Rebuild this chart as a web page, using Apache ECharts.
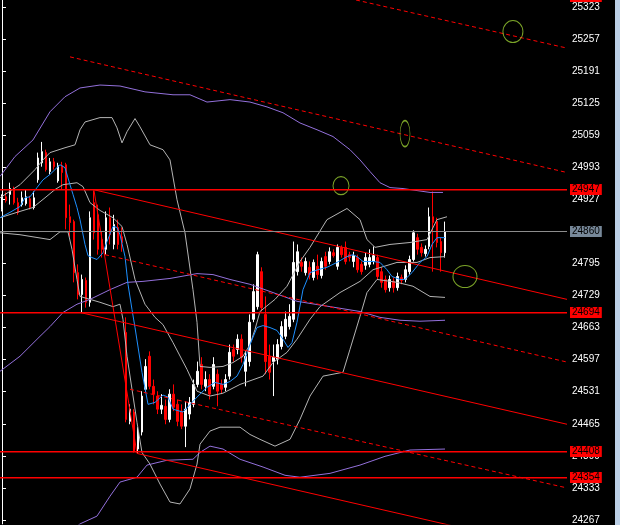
<!DOCTYPE html>
<html><head><meta charset="utf-8">
<script src="https://cdn.jsdelivr.net/npm/echarts@6/dist/echarts.min.js"></script>
<style>html,body{margin:0;padding:0;background:#000;}#c{width:620px;height:525px;}</style>
</head><body><div id="c"></div>
<script>
// ---------------- DATA ----------------
const slotCount = 142;               // bar slots across the plot
const opens  = [24906,24932,24937,24949,24920,24916,24918,24928,24910,24967,
  25002,25023,24984,25004,24965,24996,24998,24891,24881,24776,
  24731,24760,24715,24920,24895,24844,24824,24889,24834,24869,
  24850,24653,24470,24489,24413,24448,24536,24604,24542,24522,
  24495,24501,24474,24526,24505,24491,24460,24485,24505,24546,
  24587,24542,24556,24542,24567,24546,24540,24563,24618,24618,
  24639,24573,24593,24680,24706,24778,24690,24604,24593,24598,
  24624,24645,24665,24680,24778,24797,24776,24787,24766,24789,
  24770,24809,24799,24817,24789,24828,24828,24813,24799,24807,
  24793,24791,24793,24799,24807,24778,24762,24745,24758,24745,
  24766,24762,24778,24803,24848,24828,24815,24830,24891,24881,
  24840,24817];
const closes = [24932,24924,24949,24920,24900,24930,24932,24910,24930,25012,
  25025,24988,25004,24994,24996,24982,24889,24879,24776,24731,
  24762,24715,24889,24858,24824,24824,24889,24854,24875,24834,
  24838,24474,24495,24409,24450,24522,24583,24542,24526,24495,
  24503,24474,24526,24499,24470,24460,24495,24509,24546,24573,
  24546,24556,24526,24587,24532,24536,24556,24612,24604,24639,
  24602,24604,24674,24737,24813,24704,24593,24571,24602,24628,
  24665,24680,24686,24797,24819,24789,24799,24772,24797,24772,
  24799,24789,24819,24811,24828,24813,24799,24807,24811,24782,
  24778,24807,24807,24811,24768,24756,24741,24762,24745,24768,
  24760,24782,24803,24858,24824,24817,24824,24891,24879,24838,
  24817,24860];
const lows   = [24902,24920,24916,24916,24895,24912,24914,24906,24906,24961,
  24994,24984,24978,24988,24961,24947,24865,24850,24756,24721,
  24694,24704,24706,24844,24813,24807,24813,24834,24824,24824,
  24819,24468,24464,24406,24404,24441,24530,24536,24505,24485,
  24485,24464,24468,24491,24460,24454,24417,24474,24499,24540,
  24536,24532,24515,24536,24501,24526,24532,24556,24593,24608,
  24591,24542,24583,24674,24700,24696,24567,24556,24522,24587,
  24618,24639,24659,24674,24770,24778,24770,24762,24760,24762,
  24764,24782,24793,24807,24782,24807,24793,24799,24787,24776,
  24772,24782,24787,24793,24762,24745,24735,24737,24735,24739,
  24752,24756,24772,24799,24813,24809,24809,24824,24778,24828,
  24778,24807];
const highs  = [24937,24941,24961,24953,24930,24943,24947,24934,24943,25023,
  25045,25029,25012,25012,25002,25004,25002,24916,24885,24793,
  24772,24766,24902,24945,24916,24860,24902,24910,24895,24885,
  24869,24684,24505,24495,24458,24532,24598,24614,24556,24532,
  24526,24515,24536,24546,24515,24505,24511,24520,24556,24593,
  24602,24573,24567,24602,24577,24556,24567,24628,24628,24649,
  24649,24614,24690,24752,24819,24787,24727,24628,24628,24639,
  24676,24696,24711,24840,24834,24807,24807,24799,24803,24813,
  24807,24819,24828,24824,24834,24832,24840,24819,24819,24813,
  24799,24817,24824,24830,24813,24787,24770,24770,24766,24776,
  24772,24791,24811,24863,24856,24836,24832,24910,24943,24889,
  24848,24881];

// overlay lines: [bar position, price]
const maFast = [[-0.5,24889],[2,24900],[4.51,24912],[5.76,24930],[7.01,24932],[8.77,24951],[10.27,24967],[12.02,24978],[13.27,24988],[14.53,24998],[15.78,24992],[17.03,24957],[17.78,24937],[18.78,24910],[19.54,24885],[20.79,24834],[21.54,24811],[22.54,24807],[23.79,24803],[25.3,24817],[26.3,24840],[27.8,24871],[28.8,24869],[29.55,24854],[30.81,24809],[31.56,24752],[32.56,24700],[33.31,24663],[35.06,24571],[36.57,24505],[38.32,24509],[40.32,24524],[41.57,24520],[42.83,24495],[45.33,24489],[47.58,24509],[49.09,24522],[51.34,24540],[53.34,24550],[55.35,24546],[57.1,24552],[58.85,24563],[60.36,24587],[62.11,24628],[63.86,24663],[65.37,24667],[67.12,24663],[68.87,24657],[70.37,24639],[71.63,24622],[72.63,24632],[73.88,24674],[75.38,24741],[77.14,24776],[79.14,24782],[81.39,24787],[83.9,24797],[86.4,24809],[87.9,24813],[88.91,24809],[90.41,24799],[92.91,24799],[94.67,24797],[96.42,24782],[97.67,24768],[99.68,24762],[100.93,24762],[102.68,24776],[104.68,24797],[106.44,24809],[107.69,24834],[108.94,24848],[110.95,24848]];
const bandUpper = [[-0.5,24930],[4.51,24957],[8.27,24988],[10.27,25008],[12.02,25023],[15.78,25033],[18.28,25039],[19.54,25070],[20.79,25086],[24.54,25095],[27.55,25095],[28.8,25074],[30.05,25043],[31.31,25066],[33.31,25093],[34.56,25076],[37.07,25039],[40.32,25029],[42.07,25008],[43.83,24926],[45.83,24858],[47.83,24741],[48.84,24674],[49.59,24583],[52.09,24581],[55.35,24583],[57.85,24591],[60.36,24604],[62.11,24628],[63.36,24659],[64.61,24696],[68.37,24721],[71.38,24748],[74.63,24799],[77.14,24828],[81.39,24885],[86.4,24908],[89.66,24885],[91.41,24844],[93.42,24828],[97.17,24834],[102.18,24838],[106.44,24844],[108.94,24885],[111.45,24891]];
const bandMiddle = [[-0.5,24889],[4.51,24902],[7.76,24910],[10.77,24930],[13.27,24947],[15.28,24957],[18.78,24961],[20.29,24953],[22.04,24920],[24.54,24904],[27.8,24889],[30.05,24871],[31.31,24834],[33.31,24762],[35.81,24711],[38.32,24684],[40.32,24669],[42.83,24632],[46.33,24577],[48.84,24532],[52.09,24522],[55.35,24528],[59.61,24546],[65.37,24563],[67.87,24591],[71.38,24612],[73.88,24639],[77.14,24680],[79.64,24706],[84.65,24735],[89.66,24758],[92.91,24782],[98.92,24797],[103.93,24797],[107.19,24807],[110.95,24809]];
const bandLower = [[-0.5,24858],[4.51,24854],[9.02,24848],[12.02,24844],[14.53,24860],[16.53,24860],[17.53,24824],[18.78,24762],[19.54,24727],[22.04,24721],[24.54,24715],[27.8,24706],[29.55,24711],[30.3,24680],[31.31,24604],[32.56,24536],[33.81,24468],[35.06,24406],[37.07,24382],[39.57,24341],[42.07,24304],[44.58,24300],[47.08,24331],[48.84,24382],[49.59,24423],[52.09,24450],[54.6,24458],[59.61,24458],[62.11,24443],[64.61,24433],[68.37,24419],[72.13,24433],[74.63,24474],[77.14,24522],[80.39,24563],[85.4,24571],[87.15,24618],[89.66,24686],[91.41,24735],[93.92,24762],[98.92,24756],[102.93,24748],[107.19,24727],[110.95,24725]];
const slowUpper = [[-0.5,24974],[3.26,25015],[7.76,25049],[12.02,25107],[15.78,25138],[19.54,25156],[24.54,25162],[29.55,25160],[35.81,25148],[42.83,25142],[47.08,25142],[51.34,25127],[57.1,25132],[62.11,25127],[66.37,25117],[70.37,25105],[74.63,25084],[78.89,25070],[82.9,25056],[87.15,25029],[89.66,25008],[92.16,24984],[94.67,24961],[97.17,24951],[100.43,24949],[107.19,24941],[110.44,24941]];
const slowMiddle = [[-0.5,24573],[4.51,24604],[9.52,24645],[12.02,24665],[15.28,24694],[18.78,24711],[22.04,24721],[27.05,24741],[31.31,24756],[35.31,24758],[42.07,24764],[48.84,24774],[52.84,24772],[57.1,24762],[62.11,24752],[67.87,24735],[73.88,24717],[82.15,24706],[89.66,24696],[94.67,24684],[99.68,24678],[104.68,24676],[110.95,24678]];
const slowLower = [[14.53,24228],[19.54,24259],[23.79,24275],[27.05,24316],[29.55,24345],[33.81,24355],[36.31,24380],[41.32,24390],[47.83,24392],[49.59,24406],[52.09,24419],[55.35,24413],[59.61,24392],[65.37,24376],[70.88,24359],[74.63,24355],[82.15,24363],[89.66,24380],[95.92,24398],[102.18,24411],[110.95,24413]];

const trendSolid = [
  [[22.79,24947],[141.5,24721]],
  [[19.54,24694],[141.5,24464]],
  [[33.81,24404],[141.5,24201]],
  [[23.04,24945],[33.81,24404]]
];
const trendDashed = [
  [[88.66,25337],[141.5,25238]],
  [[17.03,25220],[141.5,24982]],
  [[25.8,24813],[141.5,24592]],
  [[32.06,24536],[141.5,24333]]
];
const redLevels = [24947, 24694, 24408, 24354];
const topLevel = 25345;
const lastPrice = 24860;
const yTicks = [24267,24333,24399,24465,24531,24597,24663,24729,24795,24861,24927,24993,25059,25125,25191,25257,25323];
const ellipseCenters = [[127.96,25272],[100.93,25062],[84.9,24955],[115.95,24768]];

// ---------------- CHART ----------------
const categories = Array.from({length: slotCount}, (_, i) => String(i));
const candleData = opens.map((o, i) => [o, closes[i], lows[i], highs[i]]);
const ellipseSizes = [[20,22],[10,26],[16,18],[24,22]];
const FONT = 'Liberation Sans';
const Y_MIN = 24259, Y_MAX = 25337;
const X_FIRST = -0.5, X_LAST = slotCount - 0.5;

function line(data, color, dashed, z) {
  return {type:'line', xAxisIndex:1, yAxisIndex:0, data, symbol:'none', showSymbol:false,
    silent:true, animation:false, z, clip:true,
    lineStyle:{color, width:1, type: dashed ? [4,3] : 'solid'}};
}

const series = [
  {type:'candlestick', xAxisIndex:0, yAxisIndex:0, data:candleData, barWidth:2, z:2,
   silent:true, animation:false,
   itemStyle:{color:'#ffffff', color0:'#ff0000', borderColor:'#ffffff', borderColor0:'#ff0000', borderWidth:1}},
  line(bandUpper, '#b4b4b4', false, 3),
  line(bandMiddle, '#b4b4b4', false, 3),
  line(bandLower, '#b4b4b4', false, 3),
  line(slowUpper, '#9370db', false, 3),
  line(slowMiddle, '#9370db', false, 3),
  line(slowLower, '#9370db', false, 3),
  line(maFast, '#1e90ff', false, 4)
];
trendSolid.forEach(d => series.push(line(d, '#ff0000', false, 5)));
trendDashed.forEach(d => series.push(line(d, '#ff0000', true, 5)));
series.push({type:'scatter', xAxisIndex:1, yAxisIndex:0, z:7, silent:true, animation:false,
  data: ellipseCenters.map((c, i) => ({value:c, symbolSize:ellipseSizes[i]})),
  symbol:'circle',
  itemStyle:{color:'rgba(0,0,0,0)', borderColor:'#9acd32', borderWidth:1}});

const chart = echarts.init(document.getElementById('c'));
chart.setOption({
  backgroundColor:'#000',
  animation:false,
  grid:{left:0, right:53, top:0, bottom:0},
  xAxis:[
    {type:'category', data:categories, show:false, boundaryGap:true},
    {type:'value', min:X_FIRST, max:X_LAST, show:false}
  ],
  yAxis:{type:'value', position:'right', min:Y_MIN, max:Y_MAX,
    axisLine:{show:true, lineStyle:{color:'#ffffff', width:1}},
    axisTick:{show:true, customValues:yTicks, length:4, lineStyle:{color:'#ffffff'}},
    axisLabel:{show:true, customValues:yTicks, color:'#ffffff', fontSize:10, fontFamily:FONT, margin:5,
      formatter:v => String(v)},
    splitLine:{show:false}},
  series
});

// horizontal price levels: placed through the y scale, drawn as 1px filled bands on the pixel grid
const plotLeft = chart.convertToPixel({xAxisIndex:1}, X_FIRST);
const plotRight = chart.convertToPixel({xAxisIndex:1}, X_LAST);
function levelGraphics(level, lineColor, labelBg, thick) {
  const row = Math.floor(chart.convertToPixel({yAxisIndex:0}, level));
  return [
    {type:'rect', silent:true, z:20, shape:{x:plotLeft, y:row, width:plotRight - plotLeft, height:thick},
     style:{fill:lineColor}},
    {type:'text', silent:true, z:21, x:plotRight + 3, y:row + 0.5,
     style:{text:String(level), fill:'#000', backgroundColor:labelBg, padding:[1,2,0,2],
       font:'10px "' + FONT + '"', verticalAlign:'middle', align:'left'}}
  ];
}
let g = [{type:'rect', right:0, top:0, shape:{width:5, height:525}, style:{fill:'#bcd0e6'}, z:10}];
g = g.concat(levelGraphics(lastPrice, '#8c8c8c', '#778899', 1));
redLevels.forEach(v => { g = g.concat(levelGraphics(v, '#ff0000', '#ff0000', 1.5)); });
g = g.concat(levelGraphics(topLevel, '#ff0000', '#ff0000', 1));
chart.setOption({graphic:g});
</script></body></html>
